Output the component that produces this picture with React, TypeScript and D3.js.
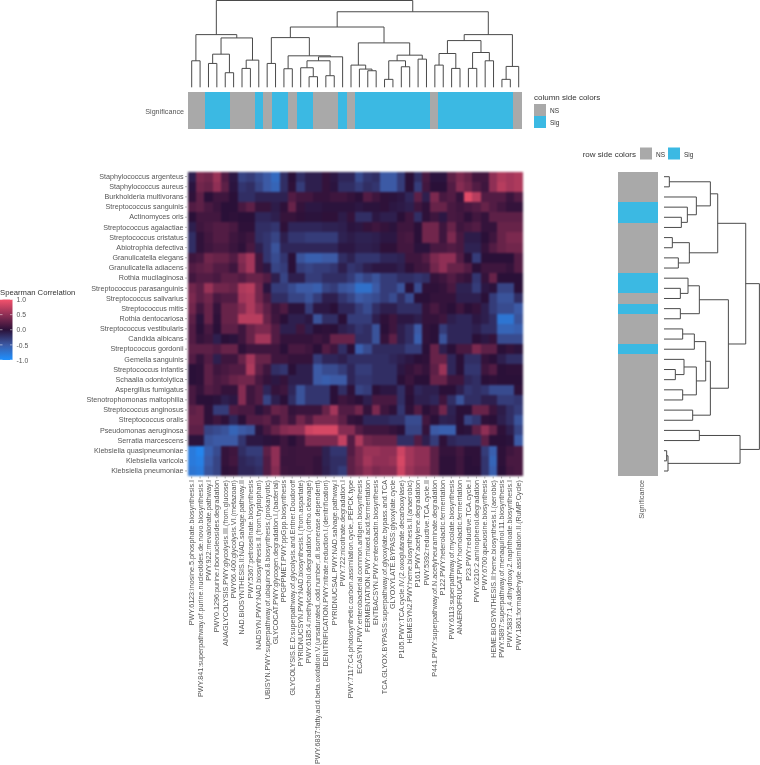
import React, { useEffect, useRef } from 'react'
import * as d3 from 'd3'

const taxa = [
  'Staphylococcus argenteus', 'Staphylococcus aureus', 'Burkholderia multivorans', 'Streptococcus sanguinis',
  'Actinomyces oris', 'Streptococcus agalactiae', 'Streptococcus cristatus', 'Abiotrophia defectiva',
  'Granulicatella elegans', 'Granulicatella adiacens', 'Rothia mucilaginosa', 'Streptococcus parasanguinis',
  'Streptococcus salivarius', 'Streptococcus mitis', 'Rothia dentocariosa', 'Streptococcus vestibularis',
  'Candida albicans', 'Streptococcus gordonii', 'Gemella sanguinis', 'Streptococcus infantis',
  'Schaalia odontolytica', 'Aspergillus fumigatus', 'Stenotrophomonas maltophilia', 'Streptococcus anginosus',
  'Streptococcus oralis', 'Pseudomonas aeruginosa', 'Serratia marcescens', 'Klebsiella quasipneumoniae',
  'Klebsiella varicola', 'Klebsiella pneumoniae',
]

const pathways = [
  'PWY.6123:inosine.5.phosphate.biosynthesis.I',
  'PWY.841:superpathway.of.purine.nucleotides.de.novo.biosynthesis.I',
  'PWY.922:mevalonate.pathway.I',
  'PWY0.1296:purine.ribonucleosides.degradation',
  'ANAGLYCOLYSIS.PWY:glycolysis.III.(from.glucose)',
  'PWY66.400:glycolysis.VI.(metazoan)',
  'NAD.BIOSYNTHESIS.II:NAD.salvage.pathway.II',
  'PWY.5367:petroselinate.biosynthesis',
  'NADSYN.PWY:NAD.biosynthesis.II.(from.tryptophan)',
  'UBISYN.PWY:superpathway.of.ubiquinol.8.biosynthesis.(prokaryotic)',
  'GLYCOCAT.PWY:glycogen.degradation.I.(bacterial)',
  'PPGPPMET.PWY:ppGpp.biosynthesis',
  'GLYCOLYSIS.E.D:superpathway.of.glycolysis.and.Entner.Doudoroff',
  'PYRIDNUCSYN.PWY:NAD.biosynthesis.I.(from.aspartate)',
  'PWY.6185:4.methylcatechol.degradation.(ortho.cleavage)',
  'PWY.6837:fatty.acid.beta.oxidation.V.(unsaturated,.odd.number,.di.isomerase.dependent)',
  'DENITRIFICATION.PWY:nitrate.reduction.I.(denitrification)',
  'PYRIDNUCSAL.PWY:NAD.salvage.pathway.I',
  'PWY.722:nicotinate.degradation.I',
  'PWY.7117:C4.photosynthetic.carbon.assimilation.cycle,.PEPCK.type',
  'ECASYN.PWY:enterobacterial.common.antigen.biosynthesis',
  'FERMENTATION.PWY:mixed.acid.fermentation',
  'ENTBACSYN.PWY:enterobactin.biosynthesis',
  'TCA.GLYOX.BYPASS:superpathway.of.glyoxylate.bypass.and.TCA',
  'GLYOXYLATE.BYPASS:glyoxylate.cycle',
  'P105.PWY:TCA.cycle.IV.(2.oxoglutarate.decarboxylase)',
  'HEMESYN2.PWY:heme.biosynthesis.II.(anaerobic)',
  'P161.PWY:acetylene.degradation',
  'PWY.5392:reductive.TCA.cycle.II',
  'P441.PWY:superpathway.of.N.acetylneuraminate.degradation',
  'P122.PWY:heterolactic.fermentation',
  'PWY.6113:superpathway.of.mycolate.biosynthesis',
  'ANAEROFRUCAT.PWY:homolactic.fermentation',
  'P23.PWY:reductive.TCA.cycle.I',
  'PWY.6210:2.aminophenol.degradation',
  'PWY.6700:queuosine.biosynthesis',
  'HEME.BIOSYNTHESIS.II:heme.biosynthesis.I.(aerobic)',
  'PWY.5897:superpathway.of.menaquinol.11.biosynthesis',
  'PWY.5837:1,4.dihydroxy.2.naphthoate.biosynthesis.I',
  'PWY.1861:formaldehyde.assimilation.II.(RuMP.Cycle)',
]

// one row per taxon, one value per pathway
const correlations = [
  [-.1,.4,.35,.55,.2,-.05,-.35,-.3,-.4,-.5,-.65,-.2,0,-.2,-.1,-.1,.05,-.05,-.15,-.15,-.4,-.25,-.2,-.5,-.5,-.3,0,-.2,.15,-.03,-.03,.25,.4,.3,.12,.12,.5,.65,.6,.65],
  [-.03,.35,.3,.5,.25,-.03,-.25,-.2,-.35,-.5,-.6,-.2,.02,-.3,-.1,-.1,.05,-.03,-.2,-.2,-.3,-.2,-.25,-.5,-.5,-.3,0,-.3,.12,0,0,.2,.45,.35,.2,.1,.5,.7,.6,.65],
  [.03,.25,0,.1,.1,0,-.2,-.2,-.12,-.12,-.12,-.12,.2,.12,.12,.05,.05,.1,.1,.05,0,.2,.1,.02,-.02,-.05,-.15,.25,-.1,.4,.15,.2,.05,.9,.7,.2,.2,.2,.08,.2],
  [.2,.25,.15,.08,0,0,.15,.25,.06,.06,-.08,.02,.3,.05,-.05,-.05,-.02,-.02,-.02,-.02,-.05,-.02,-.02,.02,-.05,-.07,-.1,.1,.02,.3,.3,.15,.1,.15,.2,.3,.2,.12,.05,.05],
  [0,.12,.12,.12,0,.02,0,0,-.15,-.15,-.1,.06,.06,.02,-.02,-.02,.02,.02,-.08,.05,-.2,-.2,-.05,-.1,-.1,0,.1,-.2,.02,.1,-.05,.15,.12,.02,.12,.05,.25,.25,.25,.25],
  [-.1,.1,.15,.2,.2,.15,.02,.02,-.2,-.2,-.25,.02,-.15,-.15,-.15,-.15,-.12,-.12,-.1,-.03,-.05,.05,.1,.05,-.02,.1,.1,0,.35,.35,.1,.3,.1,.15,.2,.05,.05,.3,.3,.3],
  [-.2,.03,.12,.2,.2,.1,.05,.1,-.2,-.25,-.35,-.1,-.25,-.25,-.3,-.3,-.3,-.3,-.12,-.08,-.12,-.12,-.1,-.05,-.05,.12,.15,0,.35,.35,.1,.4,.15,-.08,-.08,0,.1,.3,.4,.4],
  [-.2,.03,.1,.15,.15,.08,.02,.15,-.1,-.25,-.45,-.15,-.15,-.15,-.15,-.15,-.15,-.15,-.05,-.05,-.1,-.1,-.08,.02,.02,.12,.12,-.02,-.02,.15,.15,.2,.15,-.12,-.12,.05,.2,.3,.35,.35],
  [.1,.15,.35,.3,.3,.2,.45,.6,.1,-.25,-.4,-.25,0,-.45,-.55,-.55,-.5,-.5,-.2,-.12,-.25,-.25,-.25,-.15,-.15,-.12,.1,.1,.2,.4,.5,.5,.2,0,-.3,0,0,0,0,.2],
  [.2,.25,.3,.2,.2,.1,.4,.6,.1,-.05,-.35,-.3,0,-.3,-.35,-.3,-.3,-.25,-.1,-.25,-.2,-.1,-.05,-.05,-.05,-.1,.02,.1,.12,.35,.5,.3,.3,.2,0,.1,.1,.1,.05,.2],
  [.12,.2,.2,.15,.25,.25,.2,.3,.3,.2,-.1,-.35,-.1,-.1,-.3,-.3,-.2,-.2,-.2,-.3,-.45,-.35,-.45,-.3,-.3,-.2,-.2,-.25,-.2,.05,.1,.2,.1,.05,-.25,.05,.3,0,0,0],
  [.35,.25,.55,.35,.35,.3,.65,.7,.35,-.03,-.3,-.3,-.4,-.5,-.5,-.55,-.35,-.3,-.45,-.5,-.7,-.7,-.5,-.3,-.3,-.45,0,-.4,.02,.02,.05,.15,-.12,-.12,-.3,-.05,-.02,-.35,-.35,0],
  [.4,.25,.35,.15,.2,.2,.6,.65,.35,.15,-.2,-.2,-.35,-.35,-.45,-.3,-.1,-.1,-.25,-.35,-.5,-.45,-.4,-.3,-.4,-.2,-.4,0,0,.05,.05,.05,-.1,-.1,-.1,0,-.3,-.45,-.45,-.2],
  [.35,.12,.3,.05,.3,.3,.45,.65,.45,.25,.08,.18,-.02,-.02,-.3,-.05,-.05,0,-.15,-.15,-.3,-.4,-.2,-.1,-.1,-.2,-.2,-.2,.05,.15,.05,0,.1,0,.05,-.1,-.3,-.4,-.4,-.5],
  [.25,-.02,.3,.02,.3,.3,.7,.7,.7,.3,.1,0,-.1,-.1,-.05,-.45,-.2,-.2,0,-.3,-.3,-.3,-.1,.02,.1,-.05,-.05,-.1,.05,.05,.1,-.1,-.15,-.15,-.05,-.1,-.2,-.75,-.75,-.45],
  [.2,0,.15,0,.25,.25,.1,.3,.4,.4,.2,-.1,-.1,.1,-.1,0,.02,0,-.1,-.15,-.25,-.2,-.45,0,.1,-.1,-.2,-.5,.03,0,-.3,-.15,-.15,-.15,-.1,-.2,-.2,-.6,-.6,-.55],
  [.2,.05,.1,-.1,0,-.02,.1,.3,.6,.6,.2,.05,.05,.05,.05,.1,.05,.3,.3,.3,-.2,-.2,-.45,.05,.25,-.1,-.2,-.55,.03,0,-.45,-.15,-.15,-.15,0,-.05,.05,-.4,-.4,-.4],
  [.25,.25,.25,.2,.3,.3,.02,.1,.1,.1,.1,0,.15,.15,.1,0,.2,.1,-.2,0,-.55,-.4,-.18,-.18,-.18,-.18,-.3,-.3,0,.3,-.1,0,.15,.15,.4,.25,.25,0,.05,-.02],
  [.2,.05,.2,-.1,.1,.1,.3,.6,.3,.3,.1,.1,.05,.05,.05,-.3,-.15,-.15,-.1,-.2,-.2,-.2,-.2,-.2,-.15,-.1,-.05,0,.02,.3,.3,-.15,0,-.2,-.2,.05,0,-.1,-.2,-.2],
  [0,.02,.25,.1,.15,.2,.2,.65,.25,.1,-.2,-.25,0,-.1,-.1,-.5,-.4,-.4,-.3,-.15,-.3,-.3,-.2,-.2,-.2,-.05,.05,.12,.05,.25,.55,-.15,0,-.25,-.25,.1,.2,0,.02,.02],
  [0,.02,.25,.15,.2,.3,.35,.35,.15,.05,-.05,.05,-.1,-.1,-.1,-.5,-.55,-.5,-.5,-.15,-.25,-.25,-.2,-.2,-.2,0,.08,0,0,.3,.3,.1,.1,-.15,-.2,0,.02,0,0,0],
  [.15,.05,.2,.15,.05,.05,.45,.1,.2,-.15,.05,.1,-.15,-.45,-.25,-.25,-.25,0,-.2,.02,-.35,-.3,0,-.05,-.05,-.2,.02,-.15,-.1,-.1,0,0,-.1,-.25,-.2,-.25,-.4,-.4,-.4,.02],
  [.15,0,0,-.02,-.1,-.05,.45,.1,.2,-.35,-.1,0,-.2,-.45,-.25,-.25,-.25,0,.1,.05,0,-.1,.15,.15,.15,-.2,0,-.1,-.1,-.15,.1,-.2,-.45,-.2,-.2,-.1,-.1,-.3,-.3,-.25],
  [.25,.3,.02,-.3,-.3,.2,.15,.15,-.02,.1,.3,.25,.05,.08,.08,.08,.3,.6,.2,.2,.35,.05,.4,.1,.02,-.25,.02,.2,0,.08,.35,-.12,0,0,.3,.3,.08,-.08,-.2,-.3],
  [.3,.3,.02,.1,.02,-.15,0,.2,.2,.25,.1,.25,.1,.35,.2,.4,.4,.4,.25,.05,.02,-.15,-.15,-.15,-.2,-.2,-.4,-.4,.12,0,-.12,-.1,0,-.35,-.25,.02,0,-.1,-.2,-.45],
  [.25,.25,-.35,-.4,-.45,-.6,-.5,-.45,-.02,.15,.3,.45,.5,.5,.8,.85,.85,.85,.45,.45,.2,.1,.1,.1,.05,0,-.35,-.35,.05,-.5,-.55,-.55,0,-.02,.25,.5,.3,.02,-.1,-.35],
  [-.02,-.02,-.45,-.5,-.5,-.5,-.25,-.05,-.05,-.02,.02,.1,0,.1,.4,.4,.4,.4,.75,.2,.65,.35,.3,.3,.3,-.2,-.2,.2,-.1,-.3,.02,-.15,-.2,-.2,-.2,.25,0,0,-.02,-.5],
  [-.8,-.9,-.55,-.4,.05,.1,-.2,-.3,-.3,.25,.5,.1,.08,.1,.1,.1,-.12,-.25,-.25,.2,.4,.55,.55,.5,.5,.8,.6,.5,.5,.25,.05,.05,.12,.02,.02,-.3,-.55,.02,.1,.15],
  [-.8,-.85,-.5,-.35,.05,.12,-.15,-.2,-.25,.2,.5,.08,.08,.1,.1,.05,-.12,-.2,-.2,.25,.4,.6,.5,.5,.55,.85,.6,.5,.5,.25,.02,.02,.1,0,.02,-.25,-.6,.02,.15,.15],
  [-.75,-.8,-.45,-.35,.02,.05,-.15,-.15,-.2,.2,.45,.1,.08,.08,.1,.05,-.1,-.2,-.3,.25,.35,.5,.4,.45,.45,.8,.55,.45,.45,.25,.02,.02,.1,0,0,-.25,-.55,0,.12,.15],
]

const columnSignificance = [
  'NS','NS','Sig','Sig','Sig','NS','NS','NS','Sig','NS','Sig','Sig','NS','Sig','Sig','NS','NS','NS','Sig','NS',
  'Sig','Sig','Sig','Sig','Sig','Sig','Sig','Sig','Sig','NS','Sig','Sig','Sig','Sig','Sig','Sig','Sig','Sig','Sig','NS',
]
const rowSignificance = [
  'NS','NS','NS','Sig','Sig','NS','NS','NS','NS','NS','Sig','Sig','NS','Sig','NS',
  'NS','NS','Sig','NS','NS','NS','NS','NS','NS','NS','NS','NS','NS','NS','NS',
]

// dendrograms: [height, child, child], a bare number is a leaf index
const columnTree = [262,
  [159,
    [80, 0, 1],
    [149,
      [100, [72, 2, 3], [44, 4, 5]],
      [82, [57, 6, 7], 8]]],
  [228,
    [182,
      [150,
        [72, 9, 10],
        [95,
          [56, 11, 12],
          [92, [80, [59, 13, [32, 14, 15]], [35, 16, 17]], 18]]],
      [134,
        [67, 19, [55, 20, [50, 21, 22]]],
        [97,
          [80, [24, 23, 24], [62, 25, 26]],
          [85, 27, 28]]]],
    [159,
      [141,
        [102, [67, 29, 30], [57, 31, 32]],
        [105, [57, 33, 34], [80, 35, 36]]],
      [63, [24, 37, 38], 39]]],
]

const rowTree = [286,
  [245,
    [161,
      [139, [16, 0, 1], [97, 2, [70, 3, [52, 4, 5]]]],
      [76, [25, 6, 7], [43, 8, 9]]],
    [193,
      [106, [72, 10, [49, 11, 12]], [49, 13, 14]],
      [139,
        [125,
          [91, [56, 15, 16], 17],
          [97, [60, 18, [34, 19, 20]], [56, 21, 22]]],
        [86, 23, 24]]]],
  [228, [106, 25, 26], [12, [8, 27, 28], 29]],
]

const colorStops = [-1, -0.5, 0, 0.5, 1]
const colorValues = ['#1E90FF', '#3C5AA5', '#2A1038', '#8F2F55', '#F4526C']
const colorTicks = [1, 0.5, 0, -0.5, -1]
const sigColors = { NS: '#A9A9A9', Sig: '#3BB9E3' }
const textColor = '#555'
const lineColor = '#4a4a4a'
const fontFamily = '"Liberation Sans", Arial, sans-serif'

// walk the nested tree, draw elbow links. horizontal=true means root on the right
function drawTree(g, tree, leafScale, heightScale, horizontal) {
  const root = d3.hierarchy(tree, (d) => (Array.isArray(d) ? d.slice(1) : null))
  const links = d3.path()
  const place = (h, p) => (horizontal ? [heightScale(h), p] : [p, heightScale(h)])
  root.eachAfter((node) => {
    if (!node.children) {
      node.pos = leafScale(node.data)
      node.h = 0
      return
    }
    node.h = node.data[0]
    node.pos = d3.mean(node.children, (c) => c.pos)
    const [a, b] = node.children
    links.moveTo(...place(a.h, a.pos))
    links.lineTo(...place(node.h, a.pos))
    links.lineTo(...place(node.h, b.pos))
    links.lineTo(...place(b.h, b.pos))
  })
  g.append('path')
    .attr('d', links.toString())
    .attr('fill', 'none')
    .attr('stroke', lineColor)
    .attr('stroke-width', 1)
}

const App = () => {
  const ref = useRef(null)

  useEffect(() => {
    const svg = d3.select(ref.current)
    svg.selectAll('*').remove()

    const xScale = d3.scaleBand().domain(pathways).range([187.5, 522.5])
    const yScale = d3.scaleBand().domain(taxa).range([171.5, 476])
    const colorScale = d3.scaleLinear().domain(colorStops).range(colorValues)

    const defs = svg.append('defs')
    // the source image is a soft raster, cells bleed a little into each other
    defs.append('filter').attr('id', 'soft')
      .attr('x', '-2%').attr('y', '-2%').attr('width', '104%').attr('height', '104%')
      .attr('color-interpolation-filters', 'sRGB')
      .append('feGaussianBlur').attr('stdDeviation', 0.8)

    // heatmap cells
    const cells = svg.append('g').attr('shape-rendering', 'crispEdges').attr('filter', 'url(#soft)')
    correlations.forEach((row, i) => {
      cells.selectAll(null)
        .data(row)
        .enter()
        .append('rect')
        .attr('x', (d, j) => xScale(pathways[j]))
        .attr('y', yScale(taxa[i]))
        .attr('width', xScale.bandwidth() + 0.3)
        .attr('height', yScale.bandwidth() + 0.3)
        .attr('fill', (d) => colorScale(d))
    })

    // axes
    const yAxis = svg.append('g')
      .attr('transform', 'translate(187,0)')
      .call(d3.axisLeft(yScale).tickSize(2).tickPadding(1.5))
    const xAxis = svg.append('g')
      .attr('transform', 'translate(0,476.5)')
      .call(d3.axisBottom(xScale).tickSize(2).tickPadding(1.5))
    xAxis.selectAll('text')
      .attr('transform', 'rotate(-90)')
      .attr('text-anchor', 'end')
      .attr('x', -3.5)
      .attr('y', 0)
      .attr('dy', '0.35em')
    ;[xAxis, yAxis].forEach((axis) => {
      axis.select('.domain').remove()
      axis.selectAll('text')
        .attr('fill', textColor)
        .style('font-family', fontFamily)
        .style('font-size', '7.2px')
      axis.selectAll('line').attr('stroke', '#666').attr('stroke-width', 0.5)
    })

    // side colour bars
    const colBar = d3.scaleBand().domain(d3.range(40)).range([188.3, 521.7])
    svg.append('g').attr('shape-rendering', 'crispEdges')
      .selectAll('rect')
      .data(columnSignificance)
      .enter()
      .append('rect')
      .attr('x', (d, i) => colBar(i))
      .attr('y', 92.3)
      .attr('width', colBar.bandwidth() + 0.3)
      .attr('height', 36.7)
      .attr('fill', (d) => sigColors[d])

    const rowBar = d3.scaleBand().domain(d3.range(30)).range([172, 475.7])
    svg.append('g').attr('shape-rendering', 'crispEdges')
      .selectAll('rect')
      .data(rowSignificance)
      .enter()
      .append('rect')
      .attr('x', 618.3)
      .attr('y', (d, i) => rowBar(i))
      .attr('width', 40)
      .attr('height', rowBar.bandwidth() + 0.3)
      .attr('fill', (d) => sigColors[d])

    // dendrograms
    const colLeaf = d3.scaleLinear().domain([0, 39]).range([191.7, 518.7])
    const colHeight = d3.scaleLinear().domain([0, 262]).range([87.3, 0.5])
    drawTree(svg.append('g'), columnTree, colLeaf, colHeight, false)

    const rowLeaf = d3.scaleLinear().domain([0, 29]).range([176.7, 471])
    const rowHeight = d3.scaleLinear().domain([0, 286]).range([664, 759.4])
    drawTree(svg.append('g'), rowTree, rowLeaf, rowHeight, true)

    const label = (x, y, str, size, anchor = 'start', color = textColor) =>
      svg.append('text')
        .attr('x', x)
        .attr('y', y)
        .attr('text-anchor', anchor)
        .attr('fill', color)
        .style('font-family', fontFamily)
        .style('font-size', `${size}px`)
        .text(str)

    label(184, 114, 'Significance', 7.2, 'end')
    label(0, 0, 'Significance', 7.2, 'end').attr('transform', 'translate(644,480) rotate(-90)')

    // column legend
    label(534, 100, 'column side colors', 8, 'start', '#333')
    const colLegend = d3.scaleBand().domain(['NS', 'Sig']).range([104, 128])
    colLegend.domain().forEach((k) => {
      svg.append('rect').attr('x', 534).attr('y', colLegend(k))
        .attr('width', 12).attr('height', colLegend.bandwidth()).attr('fill', sigColors[k])
      label(550, colLegend(k) + 8.5, k, 6.5, 'start', '#333')
    })

    // row legend
    label(636, 157, 'row side colors', 8, 'end', '#333')
    const rowLegend = d3.scaleOrdinal().domain(['NS', 'Sig']).range([640, 668])
    rowLegend.domain().forEach((k) => {
      svg.append('rect').attr('x', rowLegend(k)).attr('y', 147.5)
        .attr('width', 12).attr('height', 12).attr('fill', sigColors[k])
      label(rowLegend(k) + 16, 157, k, 6.5, 'start', '#333')
    })

    // colour bar legend
    label(0, 295, 'Spearman Correlation', 7.7, 'start', '#333')
    const barScale = d3.scaleLinear().domain([-1, 1]).range([360, 299.5])
    const grad = defs.append('linearGradient')
      .attr('id', 'corr-grad')
      .attr('x1', 0).attr('x2', 0).attr('y1', 1).attr('y2', 0)
    colorStops.forEach((v) => {
      grad.append('stop').attr('offset', (v + 1) / 2).attr('stop-color', colorScale(v))
    })
    svg.append('rect')
      .attr('x', 0).attr('y', barScale(1))
      .attr('width', 12.5).attr('height', barScale(-1) - barScale(1))
      .attr('fill', 'url(#corr-grad)')
    const barAxis = svg.append('g')
      .attr('transform', 'translate(12.5,0)')
      .call(d3.axisRight(barScale).tickValues(colorTicks).tickSize(0).tickPadding(4).tickFormat((d) => d.toFixed(1)))
    barAxis.select('.domain').remove()
    barAxis.selectAll('text')
      .attr('fill', textColor)
      .style('font-family', fontFamily)
      .style('font-size', '6.8px')
    colorTicks.forEach((t) => {
      svg.append('line')
        .attr('x1', 0).attr('x2', 2.5).attr('y1', barScale(t)).attr('y2', barScale(t))
        .attr('stroke', '#fff').attr('stroke-width', 0.5)
      svg.append('line')
        .attr('x1', 10).attr('x2', 12.5).attr('y1', barScale(t)).attr('y2', barScale(t))
        .attr('stroke', '#fff').attr('stroke-width', 0.5)
    })
  }, [])

  // opacity forces a layer, so the small text gets plain grey antialiasing
  return (
    <svg
      ref={ref}
      width={760}
      height={765}
      style={{ position: 'absolute', left: 0, top: 0, background: '#fff', opacity: 0.999 }}
    ></svg>
  )
}

export default App
